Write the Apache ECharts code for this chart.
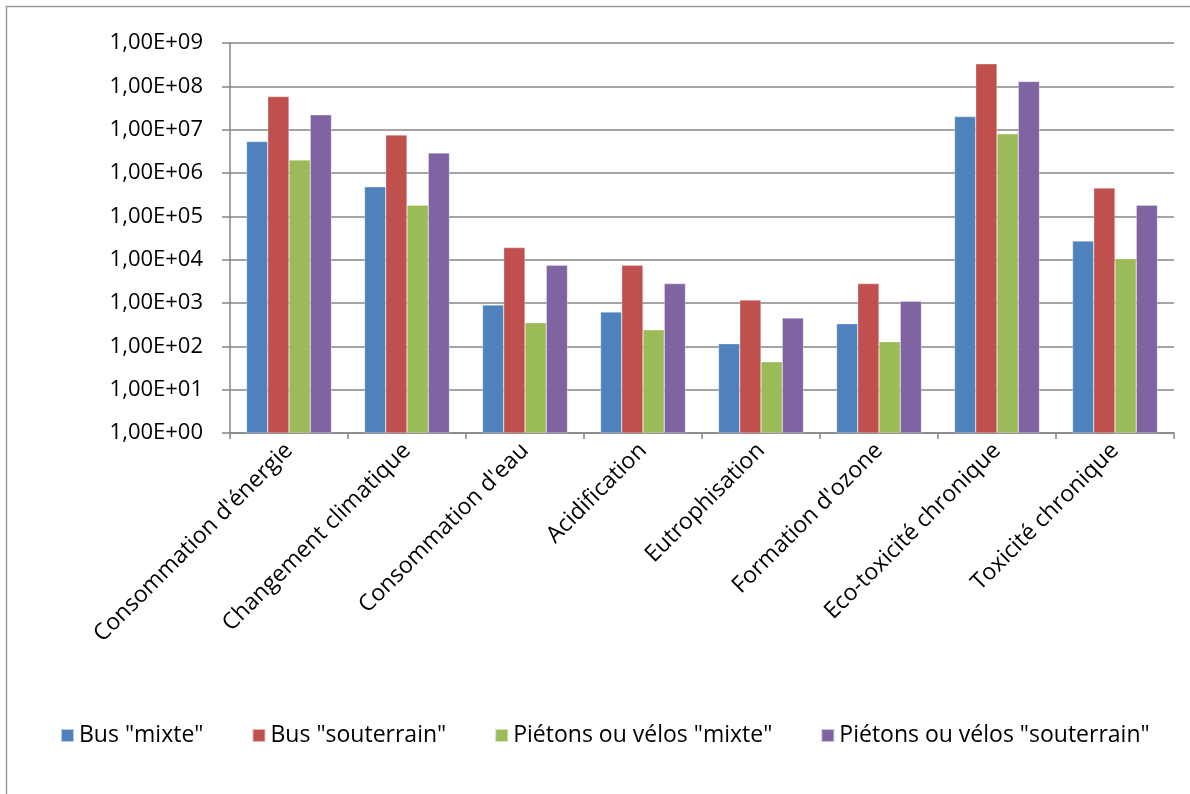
<!DOCTYPE html>
<html>
<head>
<meta charset="utf-8">
<script src="https://cdn.jsdelivr.net/npm/echarts@6/dist/echarts.min.js"></script>
<style>
html,body{margin:0;padding:0;background:#fff;}
#chart{width:1190px;height:794px;}
</style>
</head>
<body>
<div id="chart"></div>
<script>
const categories = ["Consommation d'énergie", "Changement climatique", "Consommation d'eau", "Acidification", "Eutrophisation", "Formation d'ozone", "Eco-toxicité chronique", "Toxicité chronique"];
const seriesNames = ['Bus "mixte"', 'Bus "souterrain"', 'Piétons ou vélos "mixte"', 'Piétons ou vélos "souterrain"'];
const busMixte = [5.3e6, 4.8e5, 900, 620, 115, 333, 2.0e7, 2.7e4];
const busSouterrain = [5.8e7, 7.5e6, 1.9e4, 7.4e3, 1170, 2.8e3, 3.3e8, 4.5e5];
const pietonsMixte = [2.0e6, 1.8e5, 350, 240, 44, 128, 8.0e6, 1.05e4];
const pietonsSouterrain = [2.2e7, 2.9e6, 7.4e3, 2.8e3, 450, 1.1e3, 1.3e8, 1.8e5];
const yTickLabels = ["1,00E+00","1,00E+01","1,00E+02","1,00E+03","1,00E+04","1,00E+05","1,00E+06","1,00E+07","1,00E+08","1,00E+09"];
const colors = ['#4F81BD', '#C0504D', '#9BBB59', '#8064A2'];
const allData = [busMixte, busSouterrain, pietonsMixte, pietonsSouterrain];

const FONT = '"Open Sans"';
const chart = echarts.init(document.getElementById('chart'));
chart.setOption({
  animation: false,
  backgroundColor: '#fff',
  color: colors,
  textStyle: { fontFamily: FONT },
  graphic: [
    { type: 'polyline', shape: { points: [[6.5, 800], [6.5, 6.5], [1200, 6.5]] }, style: { stroke: '#9a9a9a', lineWidth: 1.5, fill: null } }
  ],
  grid: { left: 230, right: 16, top: 43, bottom: 361, containLabel: false },
  legend: {
    top: 719, left: 55,
    itemWidth: 13, itemHeight: 13, itemGap: 48, icon: 'rect',
    textStyle: { fontFamily: FONT, fontSize: 23, color: '#000' },
    data: seriesNames
  },
  xAxis: {
    type: 'category', data: categories,
    axisLine: { lineStyle: { color: '#868686', width: 1.5 } },
    axisTick: { show: true, length: 6, lineStyle: { color: '#868686', width: 1.5 } },
    axisLabel: { rotate: 45, interval: 0, margin: 14, fontFamily: FONT, fontSize: 23, color: '#000' }
  },
  yAxis: {
    type: 'log', logBase: 10, min: 1, max: 1e9,
    axisLine: { show: true, lineStyle: { color: '#868686', width: 1.5 } },
    axisTick: { show: true, length: 8, lineStyle: { color: '#868686', width: 1.5 } },
    splitLine: { lineStyle: { color: '#868686', width: 1.5 } },
    axisLabel: {
      margin: 27, fontFamily: FONT, fontSize: 22, color: '#000',
      formatter: v => yTickLabels[Math.round(Math.log10(v))]
    }
  },
  series: seriesNames.map((n, i) => ({
    name: n, type: 'bar', data: allData[i],
    barGap: '0%', barCategoryGap: '28%',
    itemStyle: { color: colors[i], borderColor: 'rgba(255,255,255,0.6)', borderWidth: 0.5 }
  }))
});
</script>
</body>
</html>
